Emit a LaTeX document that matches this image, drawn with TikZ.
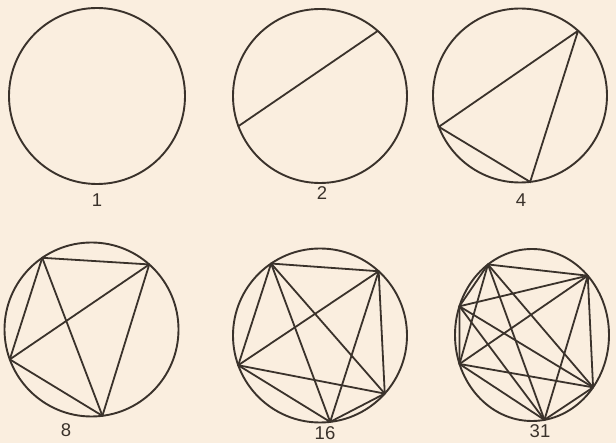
\documentclass[tikz,border=0pt]{standalone}
\usepackage{fontspec}
\setmainfont{Liberation Sans}
\definecolor{bg}{HTML}{FAEEDF}
\definecolor{ink}{HTML}{3A322B}
\begin{document}
\begin{tikzpicture}[x=1pt,y=-1pt,
  chord/.style={draw=ink,line width=1.8pt,line cap=round},
  rim/.style={draw=ink,line width=1.9pt},
  lab/.style={inner sep=0pt,text=ink,font=\fontsize{18.5}{18.5}\selectfont}]
\fill[bg] (0,0) rectangle (616,443);
\useasboundingbox (0,0) rectangle (616,443);

% 1
\coordinate (c1) at (97,96);
\draw[rim] (c1) circle[radius=88pt];
\node[lab] (l1) at (97,200) {1};

% 2
\coordinate (c2) at (320,96);
\draw[rim] (c2) circle[radius=87pt];
\path (c2) ++(200.3:87pt) coordinate (b1);
\path (c2) ++(48.4:87pt) coordinate (b2);
\draw[chord] (b1) -- (b2);
\node[lab] (l2) at (322,193) {2};

% 4
\coordinate (c4) at (520,95.5);
\draw[rim] (c4) circle[radius=87pt];
\path (c4) ++(48.1:87pt) coordinate (d1);
\path (c4) ++(201.1:87pt) coordinate (d2);
\path (c4) ++(276.7:87pt) coordinate (d3);
\draw[chord] (d1) -- (d2) -- (d3) -- (d1);
\node[lab] (l4) at (521,200) {4};

% 8
\coordinate (c8) at (91.5,329.5);
\draw[rim] (c8) circle[radius=87pt];
\path (c8) ++(124.5:87pt) coordinate (e1);
\path (c8) ++(48.4:87pt) coordinate (e2);
\path (c8) ++(200.1:87pt) coordinate (e3);
\path (c8) ++(277.2:87pt) coordinate (e4);
\foreach \i/\j in {1/2,1/3,1/4,2/3,2/4,3/4}
  \draw[chord] (e\i) -- (e\j);
\node[lab] (l8) at (66,430) {8};

% 16
\coordinate (c16) at (320,335.5);
\draw[rim] (c16) circle[radius=87pt];
\path (c16) ++(124.2:87pt) coordinate (f1);
\path (c16) ++(47.6:87pt) coordinate (f2);
\path (c16) ++(200:87pt) coordinate (f3);
\path (c16) ++(276.7:87pt) coordinate (f4);
\path (c16) ++(318.1:87pt) coordinate (f5);
\foreach \i/\j in {1/2,1/3,1/4,1/5,2/3,2/4,2/5,3/4,3/5,4/5}
  \draw[chord] (f\i) -- (f\j);
\node[lab] (l16) at (325,433) {16};

% 31
\coordinate (c31) at (532,335);
\draw[rim] (c31) ellipse[x radius=77pt,y radius=86pt];
\path (c31) ++(124.9:77pt and 86pt) coordinate (g1);
\path (c31) ++(43.6:77pt and 86pt) coordinate (g2);
\path (c31) ++(160.5:77pt and 86pt) coordinate (g3);
\path (c31) ++(199.7:77pt and 86pt) coordinate (g4);
\path (c31) ++(279.3:77pt and 86pt) coordinate (g5);
\path (c31) ++(322.5:77pt and 86pt) coordinate (g6);
\foreach \i/\j in {1/2,1/3,1/4,1/5,1/6,2/3,2/4,2/5,2/6,3/4,3/5,3/6,4/5,4/6,5/6}
  \draw[chord] (g\i) -- (g\j);
\node[lab] (l31) at (540,431) {31};
\end{tikzpicture}
\end{document}
